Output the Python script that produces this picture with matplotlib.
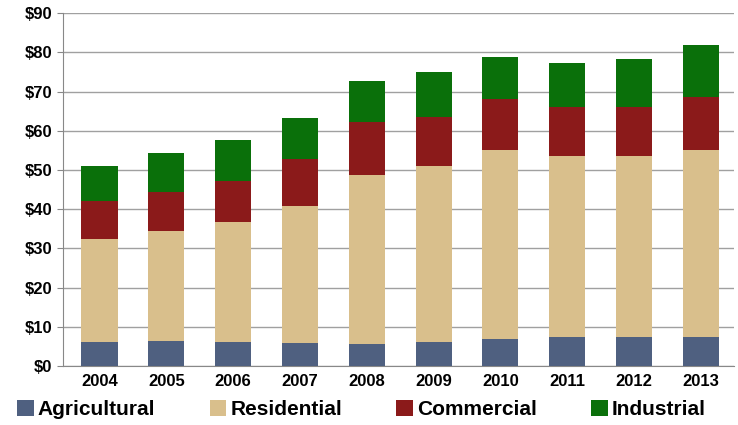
import numpy as np
import matplotlib.pyplot as plt
from matplotlib.ticker import FuncFormatter

years = ['2004', '2005', '2006', '2007', '2008', '2009', '2010', '2011', '2012', '2013']
agricultural = [6.0, 6.3, 6.2, 5.8, 5.7, 6.0, 6.8, 7.4, 7.3, 7.3]
res_top = [32.5, 34.3, 36.7, 40.7, 48.8, 51.0, 55.2, 53.5, 53.5, 55.2]
com_top = [42.0, 44.5, 47.2, 52.8, 62.2, 63.5, 68.0, 66.0, 66.0, 68.7]
ind_top = [51.0, 54.2, 57.6, 63.3, 72.8, 75.0, 78.8, 77.2, 78.3, 82.0]

residential = np.array(res_top) - np.array(agricultural)
commercial = np.array(com_top) - np.array(res_top)
industrial = np.array(ind_top) - np.array(com_top)

colors = ['#4F6080', '#D9BF8C', '#8B1A1A', '#0A700A']
labels = ['Agricultural', 'Residential', 'Commercial', 'Industrial']

fig = plt.figure(figsize=(7.38, 4.25), dpi=100)
ax = fig.add_axes([0.085, 0.139, 0.91, 0.83])
x = np.arange(len(years))
bottom = np.zeros(len(years))
for vals, c, lab in zip([agricultural, residential, commercial, industrial], colors, labels):
    ax.bar(x, vals, 0.54, bottom=bottom, color=c, label=lab, zorder=3)
    bottom += np.array(vals)

ax.set_ylim(0, 90)
ax.set_xlim(-0.55, 9.5)
ax.set_yticks(range(0, 91, 10))
ax.yaxis.set_major_formatter(FuncFormatter(lambda v, p: f'${v:.0f}'))
ax.set_xticks(x)
ax.set_xticklabels(years)
ax.grid(axis='y', color='#A0A0A0', linewidth=1, zorder=0)
for s in ['top', 'right']:
    ax.spines[s].set_visible(False)
ax.spines['left'].set_color('#888888')
ax.spines['bottom'].set_color('#888888')
ax.tick_params(axis='y', length=4, color='#888888', labelsize=12)
ax.tick_params(axis='x', length=0, labelsize=12, pad=6)
for t in ax.get_xticklabels() + ax.get_yticklabels():
    t.set_fontweight('bold')
    t.set_fontfamily('Liberation Sans')

fig.legend(loc='lower center', ncol=4, bbox_to_anchor=(0.49, -0.03), frameon=False,
           prop={'family': 'Liberation Sans', 'weight': 'bold', 'size': 15},
           handlelength=0.8, handleheight=0.8, handletextpad=0.2, columnspacing=2.6)

fig.savefig('out.png', dpi=100, facecolor='white')
